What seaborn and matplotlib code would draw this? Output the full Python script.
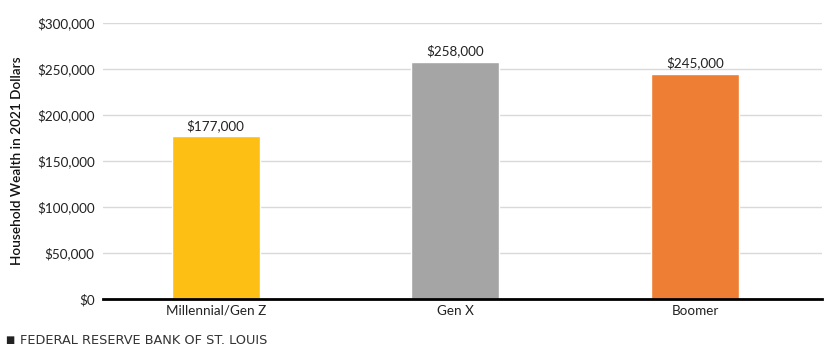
import matplotlib
matplotlib.use("Agg")
import matplotlib.pyplot as plt
import seaborn as sns
import pandas as pd
from matplotlib.ticker import FuncFormatter

categories = ["Millennial/Gen Z", "Gen X", "Boomer"]
values = [177000, 258000, 245000]
value_labels = ["$177,000", "$258,000", "$245,000"]
colors = ["#FDBF13", "#A5A5A5", "#EE7E33"]
yticks = [0, 50000, 100000, 150000, 200000, 250000, 300000]

sns.set_theme(style="white")
plt.rcParams["font.family"] = ["Lato", "DejaVu Sans"]

df = pd.DataFrame({"Generation": categories, "Wealth": values})

fig = plt.figure(figsize=(8.24, 3.53), dpi=100)
ax = fig.add_axes([0.125, 0.153, 0.8726, 0.782])

sns.barplot(data=df, x="Generation", y="Wealth", hue="Generation",
            palette=colors, width=0.367, legend=False, ax=ax, saturation=1)

ax.set_xlim(-0.47, 2.53)
ax.set_ylim(0, 300000)
ax.set_yticks(yticks)
ax.yaxis.set_major_formatter(FuncFormatter(lambda v, p: f"${v:,.0f}"))
ax.grid(axis="y", color="#D9D9D9", linewidth=1)
ax.set_axisbelow(True)
for s in ["top", "right", "left"]:
    ax.spines[s].set_visible(False)
ax.spines["bottom"].set_color("black")
ax.spines["bottom"].set_linewidth(2)
ax.tick_params(axis="both", length=0, labelsize=9.7, colors="#222222")
ax.tick_params(axis="y", pad=6)
ax.tick_params(axis="x", pad=4)
ax.set_xlabel("")
ax.set_ylabel("Household Wealth in 2021 Dollars", fontsize=9.8, color="#111111",
              labelpad=10, fontweight="semibold")

for i, (v, lab) in enumerate(zip(values, value_labels)):
    ax.annotate(lab, (i, v), xytext=(0, 3), textcoords="offset points",
                ha="center", va="bottom", fontsize=9.7, color="#222222")

fig.text(0.006, 0.022, "\u25A0", fontsize=7, color="#222222", va="bottom", ha="left",
         family="DejaVu Sans")
fig.text(0.024, 0.017, "FEDERAL RESERVE BANK OF ST. LOUIS", fontsize=9.3,
         color="#333333", va="bottom", ha="left", family="DejaVu Sans")

fig.savefig("out.png", dpi=100)
